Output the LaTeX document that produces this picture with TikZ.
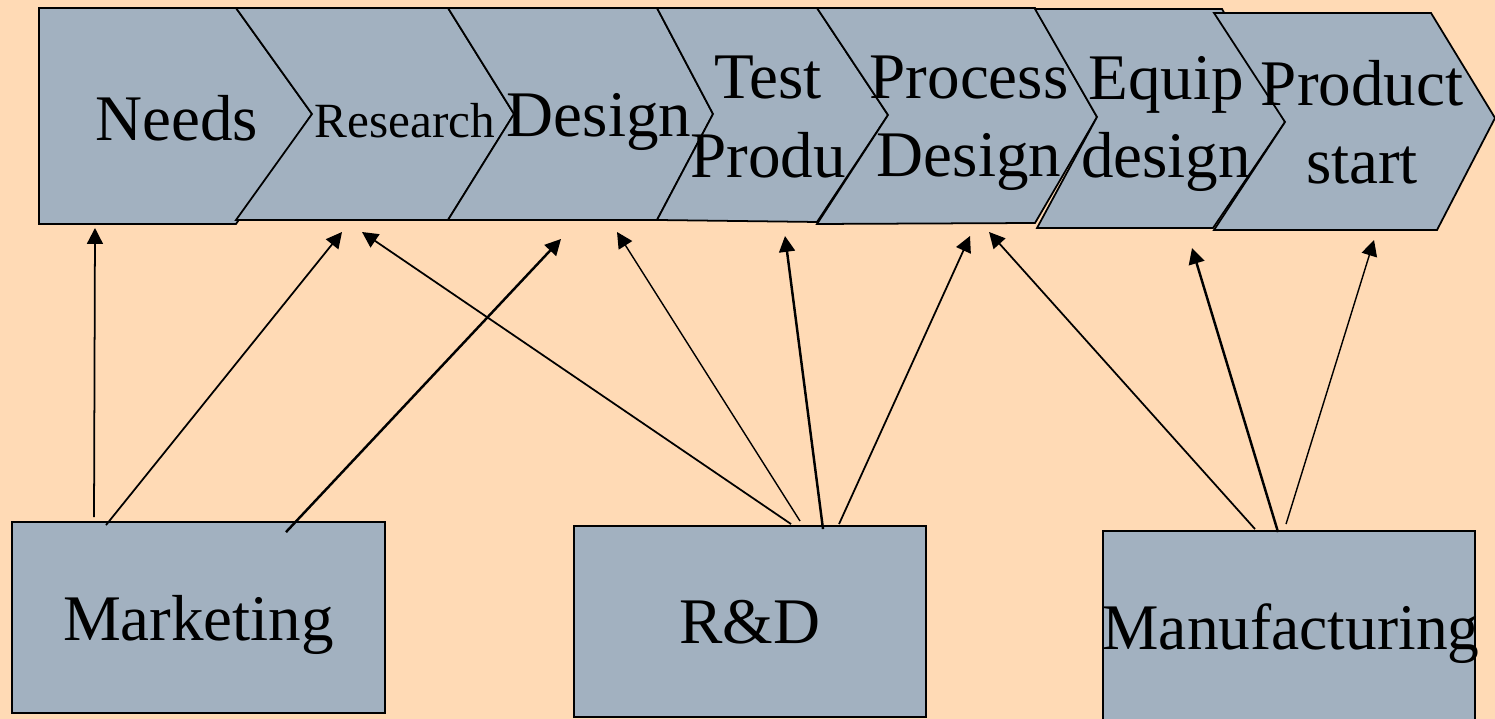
\documentclass[tikz,border=0pt]{standalone}
\usepackage{fontspec}
\setmainfont{Liberation Serif}
\usetikzlibrary{arrows.meta,calc}
\definecolor{peach}{HTML}{FFDAB5}
\definecolor{slate}{HTML}{A2B1C0}

\begin{document}
\begin{tikzpicture}[
    x=0.01cm, y=-0.01cm,
    chev/.style={draw=black, fill=slate, line width=0.5pt, line join=miter},
    lbl/.style={align=center, inner sep=0pt, font=\fontsize{18.5}{22.2}\selectfont},
    dept/.style={draw=black, fill=slate, line width=0.5pt, inner sep=0pt, minimum height=1.91cm},
    deptname/.style={inner sep=0pt, text depth=0pt, font=\fontsize{18.5}{22.2}\selectfont},
    arr/.style={draw=black, line width=0.5pt, -{Triangle[length=4.5pt, width=4.5pt]}}
  ]
    % Background
    \fill[peach] (0,0) rectangle (1495,719);
    \useasboundingbox (0,0) rectangle (1495,719);

    % Process chevrons
    \path[chev] (39,8) -- (236,8) -- (312,114) -- (236,224) -- (39,224) -- cycle;
    \path[chev] (236,8) -- (448,8) -- (514,114) -- (448,220) -- (236,220) -- (312,114) -- cycle;
    \path[chev] (448,8) -- (657,8) -- (713,114) -- (657,220) -- (448,220) -- (514,114) -- cycle;
    \path[chev] (657,8) -- (817,8) -- (888,115) -- (817,222) -- (657,220) -- (713,114) -- cycle;
    \path[chev] (817,8) -- (1035,8) -- (1097,117) -- (1035,223) -- (817,224) -- (888,115) -- cycle;
    \path[chev] (1035,9) -- (1222,9) -- (1285,122) -- (1213,228) -- (1037,228) -- (1097,117) -- cycle;
    \path[chev] (1214,13) -- (1431,13) -- (1495,118) -- (1437,230) -- (1214,230) -- (1285,122) -- cycle;

    % Labels
    \node[lbl] (needs) at (177,118) {Needs};
    \node[lbl, font=\fontsize{14}{17}\selectfont] (research) at (405,121) {Research};
    \node[lbl] (design) at (599,122) {Design};
    \node[lbl] (test) at (768,117) {Test\\Produ};
    \node[lbl] (process) at (969,123) {Process\\Design};
    \node[lbl] (equip) at (1166,124) {Equip\\design};
    \node[lbl] (start) at (1362,122) {Product\\start};

    % Departments
    \node[dept, minimum width=3.73cm] (mkt) at (198.5,617.5) {};
    \node[dept, minimum width=3.52cm] (rd) at (750,621.5) {};
    \node[dept, minimum width=3.72cm] (mfg) at (1289,626.5) {};
    \node[deptname] (mktname) at (mkt.center) {Marketing};
    \node[deptname] (rdname) at (rd.center) {R\&D};
    \node[deptname] (mfgname) at ([xshift=0.02cm]mfg.center) {\scalebox{0.975}[1]{Manufacturing}};

    % Arrow targets
    \coordinate (needsIn) at (95,228);
    \coordinate (resInA) at (342,232);
    \coordinate (resInB) at (362,232);
    \coordinate (desInA) at (561,239);
    \coordinate (desInB) at (617,232);
    \coordinate (testIn) at (785,236);
    \coordinate (procInA) at (970,236);
    \coordinate (procInB) at (989,232);
    \coordinate (equipIn) at (1192,248);
    \coordinate (startIn) at (1374,240);

    % Edges
    \draw[arr] ($(mkt.north west)+(83,-4)$) -- (needsIn);
    \draw[arr] ($(mkt.north west)+(95,4)$) -- (resInA);
    \draw[arr, line width=0.7pt] ($(mkt.north west)+(275,11)$) -- (desInA);
    \draw[arr] ($(rd.north west)+(218,-1)$) -- (resInB);
    \draw[arr, line width=0.4pt] ($(rd.north west)+(227,-4)$) -- (desInB);
    \draw[arr, line width=0.7pt] ($(rd.north west)+(250,4)$) -- (testIn);
    \draw[arr] ($(rd.north west)+(266,-1)$) -- (procInA);
    \draw[arr] ($(mfg.north west)+(153,-1)$) -- (procInB);
    \draw[arr, line width=0.7pt] ($(mfg.north west)+(176,2)$) -- (equipIn);
    \draw[arr, line width=0.4pt] ($(mfg.north west)+(184,-6)$) -- (startIn);
  \end{tikzpicture}
\end{document}
